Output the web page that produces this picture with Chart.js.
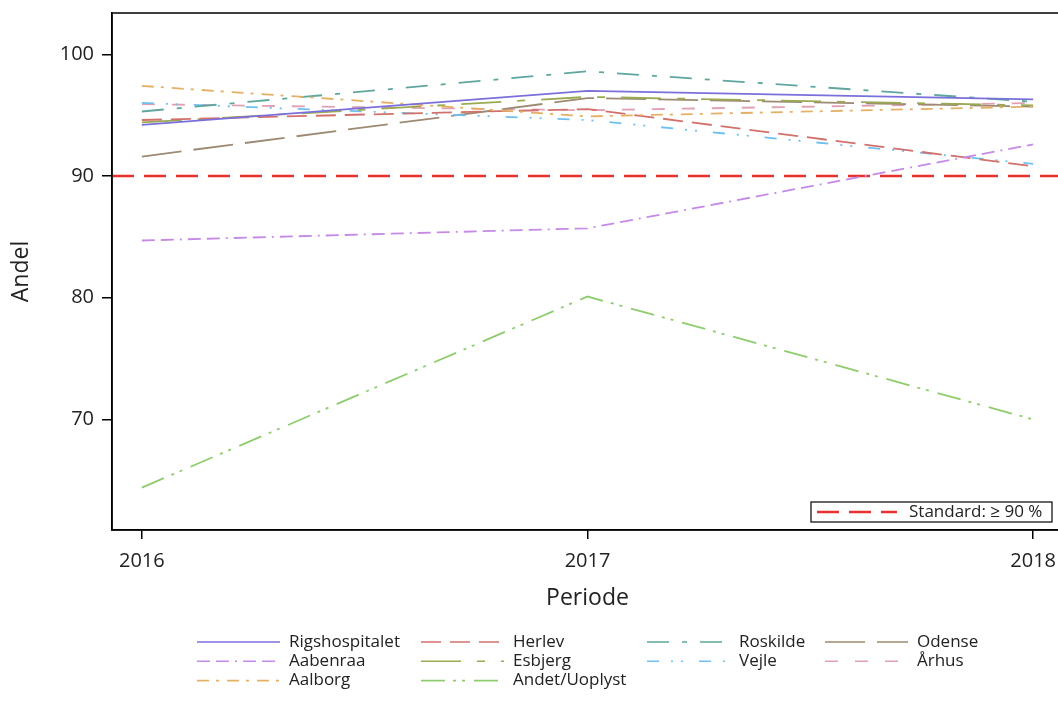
<!DOCTYPE html>
<html>
<head>
<meta charset="utf-8">
<script src="https://cdn.jsdelivr.net/npm/chart.js@4.4.0/dist/chart.umd.min.js"></script>
<style>
    html, body { margin: 0; padding: 0; background: #fff; overflow: hidden; }
    canvas { display: block; }
</style>
</head>
<body>
<canvas id="chart" width="1066" height="701"></canvas>
<script>
// ===== Data =====
const years = [2016, 2017, 2018];
const yTicks = [70, 80, 90, 100];
const standardValue = 90;

const rigshospitalet = [94.2, 97.0, 96.3];
const aabenraa = [84.7, 85.7, 92.6];
const aalborg = [97.4, 94.9, 95.7];
const herlev = [94.6, 95.5, 90.8];
const esbjerg = [94.4, 96.5, 95.8];
const andet = [64.4, 80.1, 70.0];
const roskilde = [95.3, 98.6, 96.1];
const vejle = [96.0, 94.6, 91.0];
const odense = [91.6, 96.4, 95.7];
const aarhus = [95.9, 95.4, 96.0];

const FONT = "'Open Sans', 'DejaVu Sans', sans-serif";

const series = [
    { label: 'Rigshospitalet', data: rigshospitalet, color: '#7b6fdc', dash: [] },
    { label: 'Aabenraa', data: aabenraa, color: '#c58ae6', dash: [13, 6, 13, 6, 2, 6] },
    { label: 'Aalborg', data: aalborg, color: '#e4b066', dash: [12, 7, 3, 8] },
    { label: 'Herlev', data: herlev, color: '#d2706c', dash: [20, 9] },
    { label: 'Esbjerg', data: esbjerg, color: '#9aaa52', dash: [40, 16, 8, 16] },
    { label: 'Andet/Uoplyst', data: andet, color: '#8fcc6e', dash: [24, 8, 3, 6, 3, 9] },
    { label: 'Roskilde', data: roskilde, color: '#5fa69f', dash: [22, 13, 5, 13] },
    { label: 'Vejle', data: vejle, color: '#6ec1ef', dash: [12, 12, 2, 8, 2, 16] },
    { label: 'Odense', data: odense, color: '#9d8a72', dash: [40, 12] },
    { label: 'Århus', data: aarhus, color: '#dfa1b4', dash: [13, 17] }
];

// axis range (a little padding around the years)
const xMin = 2015.933, xMax = 2018.067;
const yMin = 60.92, yMax = 103.39;

// legend columns: column-major like the original
const legendCols = [
    ['Rigshospitalet', 'Aabenraa', 'Aalborg'],
    ['Herlev', 'Esbjerg', 'Andet/Uoplyst'],
    ['Roskilde', 'Vejle'],
    ['Odense', 'Århus']
];
const legendX = [197, 421, 647, 825];

const datasets = series.map(s => ({
    label: s.label,
    data: s.data.map((v, i) => ({ x: years[i], y: v })),
    borderColor: s.color,
    borderDash: s.dash,
    borderWidth: 1.8,
    pointRadius: 0,
    fill: false,
    tension: 0
}));

datasets.push({
    label: 'Standard',
    data: [{ x: xMin, y: standardValue }, { x: xMax, y: standardValue }],
    borderColor: '#e8302c',
    borderDash: [22, 10],
    borderWidth: 2.6,
    pointRadius: 0,
    fill: false
});

// ===== Frame + legends =====
const decorPlugin = {
    id: 'decor',
    afterDraw(chart) {
        const { ctx, chartArea: a } = chart;
        ctx.save();
        ctx.strokeStyle = '#000';
        ctx.lineWidth = 1.5;
        ctx.setLineDash([]);
        ctx.strokeRect(a.left, a.top, a.right - a.left, a.bottom - a.top);

        // inside legend for standard line
        const std = chart.data.datasets.find(d => d.label === 'Standard');
        ctx.fillStyle = '#fff';
        ctx.fillRect(811, 502, 241, 20);
        ctx.lineWidth = 1.2;
        ctx.strokeRect(811, 502, 241, 20);
        ctx.beginPath();
        ctx.strokeStyle = std.borderColor;
        ctx.lineWidth = std.borderWidth;
        ctx.setLineDash(std.borderDash);
        ctx.moveTo(817, 512);
        ctx.lineTo(897, 512);
        ctx.stroke();
        ctx.setLineDash([]);
        ctx.fillStyle = '#222';
        ctx.font = `17px ${FONT}`;
        ctx.textBaseline = 'middle';
        ctx.textAlign = 'left';
        ctx.fillText('Standard: \u2265 90 %', 909, 512);

        // bottom legend
        ctx.font = `17px ${FONT}`;
        legendCols.forEach((col, ci) => {
            col.forEach((name, ri) => {
                const ds = chart.data.datasets.find(d => d.label === name);
                const y = 642 + ri * 19.3;
                const x = legendX[ci];
                ctx.beginPath();
                ctx.strokeStyle = ds.borderColor;
                ctx.lineWidth = 1.6;
                ctx.setLineDash(ds.borderDash);
                ctx.moveTo(x, y);
                ctx.lineTo(x + 83, y);
                ctx.stroke();
                ctx.setLineDash([]);
                ctx.fillStyle = '#222';
                ctx.fillText(name, x + 92, y);
            });
        });
        ctx.restore();
    }
};

// ===== Chart =====
new Chart(document.getElementById('chart'), {
    type: 'line',
    data: { datasets },
    plugins: [decorPlugin],
    options: {
        responsive: false,
        animation: false,
        layout: { padding: { top: 13, right: 3, bottom: 89, left: 0 } },
        plugins: { legend: { display: false }, tooltip: { enabled: false } },
        scales: {
            x: {
                type: 'linear',
                min: xMin,
                max: xMax,
                afterBuildTicks: s => { s.ticks = years.map(v => ({ value: v })); },
                afterFit: s => { s.height = 82; s.paddingLeft = 0; s.paddingRight = 0; },
                ticks: { color: '#222', font: { family: FONT, size: 20 }, padding: 10, callback: v => String(v) },
                grid: { drawOnChartArea: false, color: '#000', tickLength: 9, lineWidth: 1.5 },
                border: { color: '#000', width: 1.5 },
                title: { display: true, text: 'Periode', color: '#222', font: { family: FONT, size: 23 }, padding: { top: 0, bottom: 0 } }
            },
            y: {
                min: yMin,
                max: yMax,
                afterBuildTicks: s => { s.ticks = yTicks.map(v => ({ value: v })); },
                afterFit: s => { s.width = 112; s.paddingTop = 0; s.paddingBottom = 0; },
                ticks: { color: '#222', font: { family: FONT, size: 20 }, padding: 8, callback: v => String(v) },
                grid: { drawOnChartArea: false, color: '#000', tickLength: 10, lineWidth: 1.5 },
                border: { color: '#000', width: 1.5 },
                title: { display: true, text: 'Andel', color: '#222', font: { family: FONT, size: 23 }, padding: { top: 8, bottom: 0 } }
            }
        }
    }
});
</script>
</body>
</html>
